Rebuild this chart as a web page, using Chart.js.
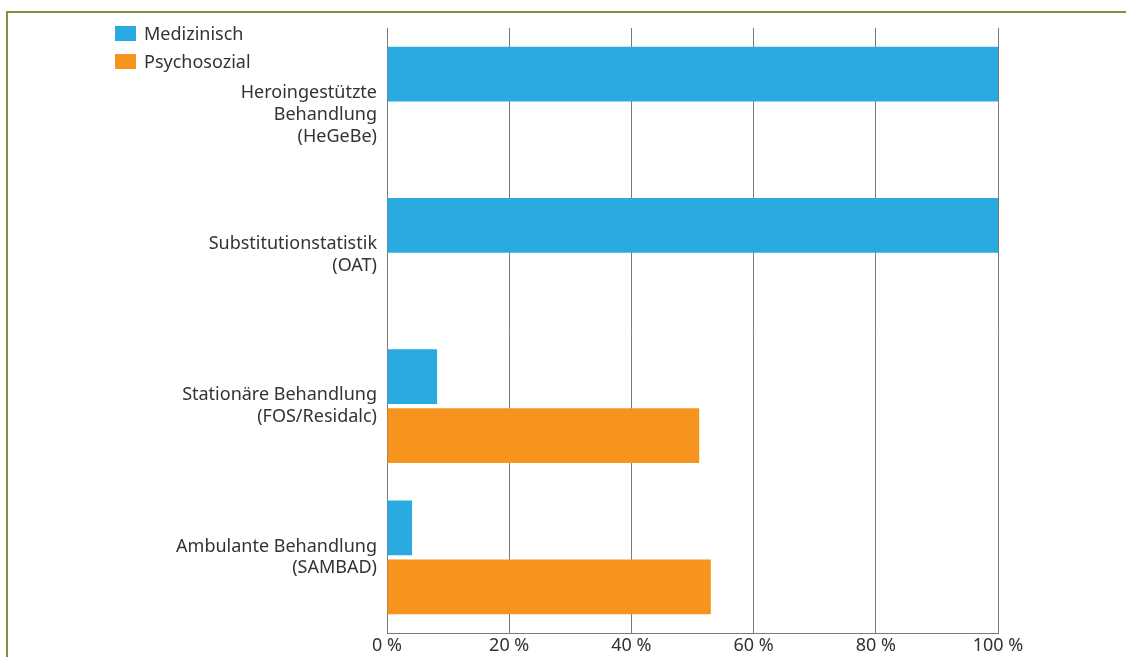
<!DOCTYPE html>
<html>
<head>
<meta charset="utf-8">
<script src="https://cdn.jsdelivr.net/npm/chart.js@4"></script>
<style>
  body { margin: 0; background: #fff; }
  #wrap { position: relative; width: 1126px; height: 657px; overflow: hidden; }
  #frame { position: absolute; left: 6px; top: 11px; right: -10px; bottom: -10px;
           border-top: 2px solid #8c8b44; border-left: 2px solid #8c8b44; }
  #myChart { position: absolute; left: 0; top: 0; }
  #legend { position: absolute; left: 115px; top: 19px; font-family: "Noto Sans", sans-serif;
            font-size: 18px; color: #333; }
  .item { display: flex; align-items: center; height: 28px; }
  .box { width: 21px; height: 15px; margin-right: 8px; }
</style>
</head>
<body>
<div id="wrap">
  <div id="frame"></div>
  <canvas id="myChart" width="1126" height="657"></canvas>
  <div id="legend"></div>
</div>
<script>
// first label sits a little below its bar group in the original, hence the blank line
const categories = [
    ['', 'Heroingestützte', 'Behandlung', '(HeGeBe)'],
    ['Substitutionstatistik', '(OAT)'],
    ['Stationäre Behandlung', '(FOS/Residalc)'],
    ['Ambulante Behandlung', '(SAMBAD)']
]
const seriesNames = ['Medizinisch', 'Psychosozial']
const medizinisch = [100, 100, 8.2, 4.1]
const psychosozial = [null, null, 51.1, 53.0]
const colors = ['#29abe2', '#f7941d']
const xTicks = [0, 20, 40, 60, 80, 100]

const font = { family: '"Noto Sans", sans-serif', size: 18, lineHeight: 1.22 }

const ctx = document.getElementById('myChart');
new Chart(ctx, {
    type: 'bar',
    data: {
        labels: categories,
        datasets: [{
            label: seriesNames[0],
            data: medizinisch,
            backgroundColor: colors[0],
            barPercentage: 0.93,
            categoryPercentage: 0.78
        }, {
            label: seriesNames[1],
            data: psychosozial,
            backgroundColor: colors[1],
            barPercentage: 0.93,
            categoryPercentage: 0.78
        }]
    },
    options: {
        indexAxis: 'y',
        responsive: false,
        animation: false,
        layout: { padding: { left: 0, top: 28, right: 128, bottom: 0 } },
        plugins: {
            legend: { display: false },
            tooltip: { enabled: false }
        },
        scales: {
            x: {
                min: 0,
                max: 100,
                afterBuildTicks: (scale) => { scale.ticks = xTicks.map(v => ({ value: v })) },
                afterFit: (scale) => {
                    scale.height = 24
                    scale.paddingLeft = 0
                    scale.paddingRight = 0
                },
                grid: { color: '#7a7a7a', lineWidth: 1, tickLength: 0 },
                border: { display: true, color: '#7a7a7a', width: 1 },
                ticks: {
                    color: '#333',
                    font: font,
                    padding: 2,
                    maxRotation: 0,
                    callback: (v) => v + ' %'
                }
            },
            y: {
                afterFit: (scale) => {
                    scale.width = 387
                    scale.paddingTop = 0
                    scale.paddingBottom = 0
                },
                grid: { display: false, tickLength: 0 },
                border: { display: true, color: '#7a7a7a', width: 1 },
                ticks: {
                    color: '#333',
                    font: font,
                    padding: 10
                }
            }
        }
    }
});

const legend = document.getElementById('legend');
seriesNames.forEach((name, i) => {
    const item = document.createElement('div');
    item.className = 'item';
    item.innerHTML = '<span class="box" style="background:' + colors[i] + '"></span>' + name;
    legend.appendChild(item);
});
</script>
</body>
</html>
